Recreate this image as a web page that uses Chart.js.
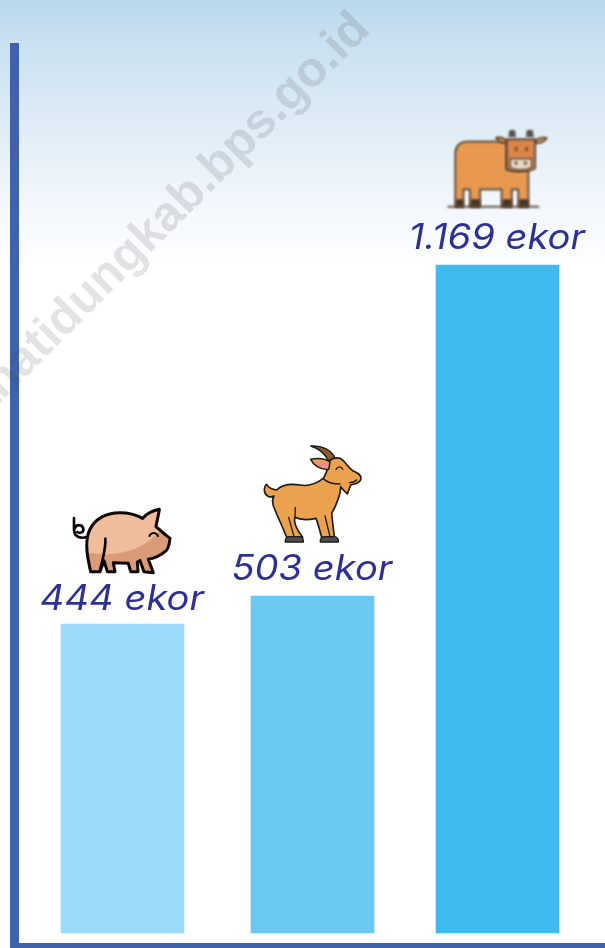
<!DOCTYPE html>
<html>
<head>
<meta charset="utf-8">
<script src="https://cdn.jsdelivr.net/npm/chart.js@4/dist/chart.umd.js"></script>
<style>
html,body{margin:0;padding:0;background:#fff}
body{width:605px;height:948px;overflow:hidden;background:linear-gradient(180deg,#bad8ee 0,#c9e0f0 40px,#dbeaf5 110px,#f0f6fc 195px,#ffffff 272px,#ffffff 948px)}
canvas{display:block}
</style>
</head>
<body>
<canvas id="c" width="605" height="948"></canvas>
<script>
// Categories and the figures printed above each bar
const categories = ['Babi', 'Kambing', 'Sapi'];
const printedLabels = ['444 ekor', '503 ekor', '1.169 ekor'];
// The infographic's bars are not drawn to scale with the printed figures,
// so the bar lengths are read off the picture separately.
const barLengths = [309, 337, 668];
const barColors = ['#9bdaf9', '#6bc8f2', '#3fbaef'];
const watermark = 'tanatidungkab.bps.go.id';

const AXIS = '#3f61ae', INK = '#2e3192';
// the source spaces its columns unevenly
const COLUMN_SHIFT = [9.58333, 2.75, -9.08333];
const LABEL_GAP = [14, 16.5, 16];

function p(ctx, d, fill, stroke, lw) {
  const path = new Path2D(d);
  if (fill) { ctx.fillStyle = fill; ctx.fill(path); }
  if (stroke) { ctx.strokeStyle = stroke; ctx.lineWidth = lw; ctx.lineJoin = 'round'; ctx.lineCap = 'round'; ctx.stroke(path); }
  return path;
}

function drawPig(ctx) { // local drawing units: 1/3 px
  const K = '#0d0805', body = 'M272 425C262 380 255 345 265 310C280 265 320 248 360 248C385 248 410 255 428 265C440 250 460 242 478 238C476 255 470 275 468 290C480 300 495 315 510 325C508 345 505 360 495 365C480 378 460 385 445 388L460 428L432 425L420 392L412 396L414 425L392 425L385 400L340 398L345 425L322 425L312 392L300 425Z';
  p(ctx, 'M262 320C240 328 222 320 222 298L222 264M224 296C228 282 246 282 250 296C252 306 240 312 232 306', null, K, 8);
  const b = p(ctx, body, '#efbd9b');
  ctx.save(); ctx.clip(b);
  p(ctx, 'M255 365C340 385 430 365 480 300L520 330L520 440L250 440Z', '#d99b78');
  ctx.restore();
  p(ctx, body, null, K, 9);
  p(ctx, 'M316 326C318 350 312 375 300 420', null, K, 8);
  p(ctx, 'M448 318C454 306 468 306 474 318', null, K, 6);
}

function drawGoat(ctx) {
  const K = '#1f1a17', body = 'M822 198C810 205 795 198 793 182C793 172 797 165 800 163C805 172 815 178 830 180C845 165 870 160 900 165C925 170 950 160 970 145C978 130 985 120 985 100C988 88 1005 80 1020 85C1035 92 1040 108 1058 122C1070 128 1083 132 1083 145C1083 158 1070 162 1052 165L1042 192L1030 180L1022 170C1022 190 1010 225 995 250L1003 322L965 322C958 295 952 275 948 265C925 270 900 270 885 262C880 275 890 300 908 322L860 322C850 295 835 265 825 240C815 220 816 208 822 198Z';
  p(ctx, 'M1005 84C995 60 965 45 932 48C955 55 975 70 985 92Z', '#8a5a2e', K, 4);
  p(ctx, body, '#eba24f', K, 5);
  p(ctx, 'M990 96C975 85 950 84 932 88C940 105 960 120 986 118Z', '#eba24f', K, 4.5);
  p(ctx, 'M982 100C968 94 955 94 944 96C952 106 966 112 982 110Z', '#ee8a99');
  p(ctx, 'M970 146C982 158 1000 162 1020 162', null, K, 4);
  p(ctx, 'M1008 118C1014 108 1024 108 1028 118M1048 158C1056 158 1064 156 1070 150', null, K, 4);
  p(ctx, 'M975 258L990 320M866 262L882 320M885 262L886 232', null, K, 4);
  p(ctx, 'M856 336C854 326 860 320 870 320L898 320C906 320 912 328 910 336Z', '#4f4f52', K, 4);
  p(ctx, 'M961 336C959 326 965 320 975 320L1003 320C1011 320 1017 328 1015 336Z', '#4f4f52', K, 4);
}

function drawCow(ctx) {
  const K = '#4a3526', O = '#e8994f';
  ctx.filter = 'blur(1px)';
  p(ctx, 'M145 290L415 290', null, '#5a5048', 6);
  p(ctx, 'M166 290L166 128C168 108 180 96 200 95L320 95L320 180C335 182 370 184 385 178L385 290L355 290L355 238L335 238L335 290L305 290L305 238L240 238L240 290L210 290L210 238L190 238L190 290Z', O, K, 5);
  p(ctx, 'M168 268H190V290H168ZM212 268H240V290H212ZM307 268H335V290H307ZM357 268H385V290H357Z', '#44352b');
  p(ctx, 'M325 82L328 60L345 60L348 82ZM378 82L380 60L398 60L402 82Z', '#55524f');
  p(ctx, 'M320 92C306 82 296 80 288 84C296 96 308 100 320 100ZM405 92C418 84 430 80 440 84C432 96 418 100 405 100Z', O, K, 5);
  p(ctx, 'M320 88L405 88L405 175C390 186 335 186 320 175Z', '#da8549', K, 5);
  p(ctx, 'M330 146L395 146L395 172C385 182 340 182 330 172Z', '#e9d8c4', K, 4);
  p(ctx, 'M345 110h8v14h-8ZM376 110h8v14h-8Z', '#8a4a24');
  p(ctx, 'M344 154h8v10h-8ZM372 154h8v10h-8Z', '#6a5a50');
  ctx.filter = 'none';
}

const ICONS = [
  { draw: drawPig,  ox: 122.5, oy: 624, zx: 0,   zy: 430 },
  { draw: drawGoat, ox: 312.5, oy: 596, zx: 0,   zy: 430 },
  { draw: drawCow,  ox: 497.5, oy: 265, zx: 400, zy: 110 }
];

const infographic = {
  id: 'infographic',
  afterDatasetsUpdate(chart) {
    chart.getDatasetMeta(0).data.forEach((bar, i) => { bar.x += COLUMN_SHIFT[i]; });
  },
  beforeDatasetsDraw(chart) {
    const ctx = chart.ctx;
    ctx.save();
    ctx.translate(372, 31);
    ctx.rotate(-Math.PI / 4);
    ctx.font = 'bold 49px "Liberation Sans", Arial, sans-serif';
    ctx.textAlign = 'right';
    ctx.textBaseline = 'alphabetic';
    ctx.fillStyle = 'rgba(60,60,60,0.14)';
    ctx.fillText(watermark, 0, 0);
    ctx.restore();
  },
  afterDatasetsDraw(chart) {
    const ctx = chart.ctx;
    chart.getDatasetMeta(0).data.forEach((bar, i) => {
      ctx.save();
      ctx.translate(bar.x - 0.7, bar.y - LABEL_GAP[i]);
      ctx.scale(1.09, 1);
      ctx.font = 'italic 400 35px Inter, "DejaVu Sans", sans-serif';
      ctx.textAlign = 'center';
      ctx.textBaseline = 'alphabetic';
      ctx.fillStyle = INK;
      ctx.fillText(printedLabels[i], 0, 0);
      ctx.restore();

      const ic = ICONS[i];
      ctx.save();
      ctx.translate(bar.x - ic.ox + ic.zx, bar.y - ic.oy + ic.zy);
      ctx.scale(1 / 3, 1 / 3);
      ic.draw(ctx);
      ctx.restore();
    });
  }
};

new Chart(document.getElementById('c'), {
  type: 'bar',
  data: {
    labels: categories,
    datasets: [{ label: 'Ternak', data: barLengths, backgroundColor: barColors, borderWidth: 0, barThickness: 123 }]
  },
  plugins: [infographic],
  options: {
    responsive: false,
    animation: false,
    layout: { padding: { left: 14.5, top: 47.5, right: 0, bottom: 2.5 } },
    plugins: { legend: { display: false }, tooltip: { enabled: false }, title: { display: false } },
    scales: {
      x: {
        ticks: { display: false },
        grid: { drawOnChartArea: false, drawTicks: false, lineWidth: 1 },
        border: { display: true, color: AXIS, width: 5 }
      },
      y: {
        min: -12.5, max: 885.5,
        ticks: { display: false },
        grid: { drawOnChartArea: false, drawTicks: false, lineWidth: 5 },
        border: { display: true, color: AXIS, width: 9 }
      }
    }
  }
});
</script>
</body>
</html>
